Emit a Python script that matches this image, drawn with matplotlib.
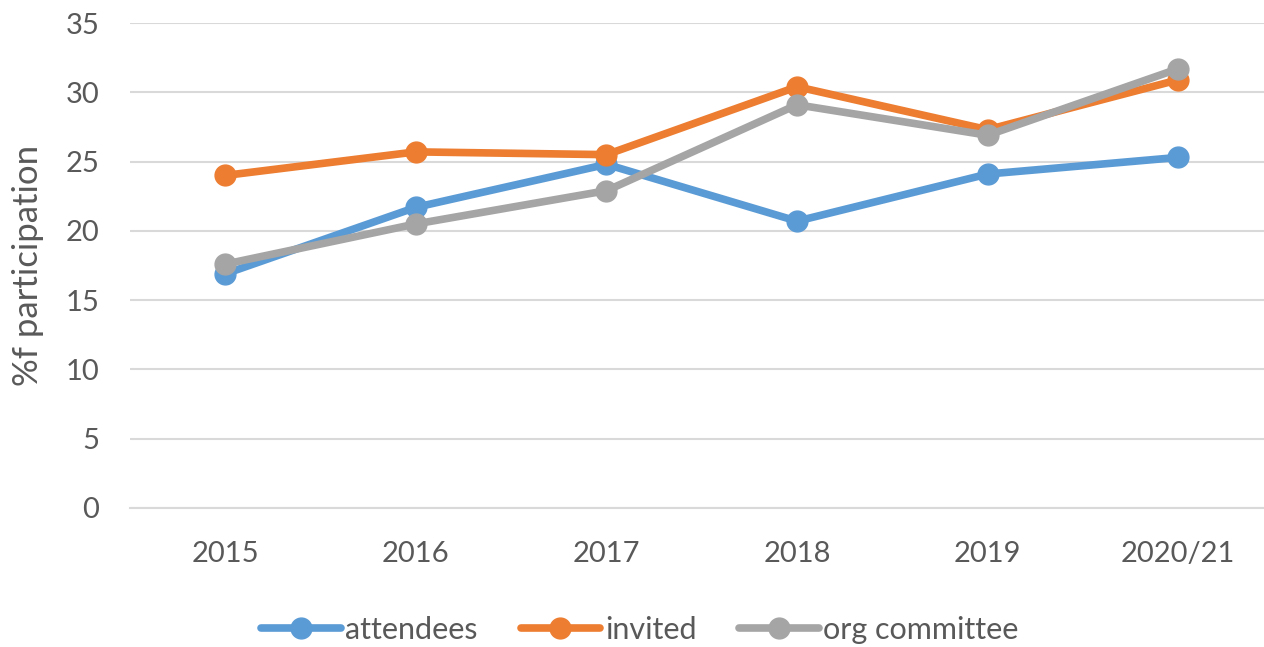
import matplotlib
matplotlib.use("Agg")
import matplotlib.pyplot as plt

categories = ["2015", "2016", "2017", "2018", "2019", "2020/21"]
attendees = [16.9, 21.7, 24.8, 20.7, 24.1, 25.3]
invited = [24.0, 25.7, 25.5, 30.4, 27.3, 30.9]
org_committee = [17.6, 20.5, 22.9, 29.1, 26.9, 31.7]
y_ticks = [0, 5, 10, 15, 20, 25, 30, 35]

plt.rcParams['font.family'] = ['Lato', 'DejaVu Sans']

fig = plt.figure(figsize=(12.64, 6.47), dpi=100)
ax = fig.add_axes([130/1264, 1-508/647, 1134/1264, (508-23)/647])

x = list(range(len(categories)))
series = [("attendees", attendees, "#5B9BD5"),
          ("invited", invited, "#ED7D31"),
          ("org committee", org_committee, "#A5A5A5")]
for name, vals, col in series:
    ax.plot(x, vals, color=col, lw=5.5, marker="o", markersize=15,
            solid_capstyle="round", label=name, zorder=3)

ax.set_ylim(0, 35)
ax.set_xlim(-0.5, 5.45)
ax.set_yticks(y_ticks)
ax.set_xticks(x)
ax.set_xticklabels(categories)
ax.yaxis.grid(True, color="#D9D9D9", lw=1.5)
ax.set_axisbelow(True)
for s in ax.spines.values():
    s.set_visible(False)
ax.spines['bottom'].set_visible(True)
ax.spines['bottom'].set_color("#D9D9D9")
ax.spines['bottom'].set_linewidth(1.5)
ax.tick_params(axis='both', length=0, labelsize=21, colors="#595959")
ax.tick_params(axis='y', pad=22)
ax.tick_params(axis='x', pad=24)
ax.set_ylabel("%f participation", fontsize=25, color="#595959")
ax.yaxis.set_label_coords((44-130)/1134, 0.5)

leg = ax.legend(loc="center", bbox_to_anchor=((640-130)/1134, -(630-508)/485),
                ncol=3, frameon=False, fontsize=22, handlelength=2.6,
                columnspacing=1.4, handletextpad=0.15)
for t in leg.get_texts():
    t.set_color("#595959")

fig.savefig("out.png", dpi=100)
